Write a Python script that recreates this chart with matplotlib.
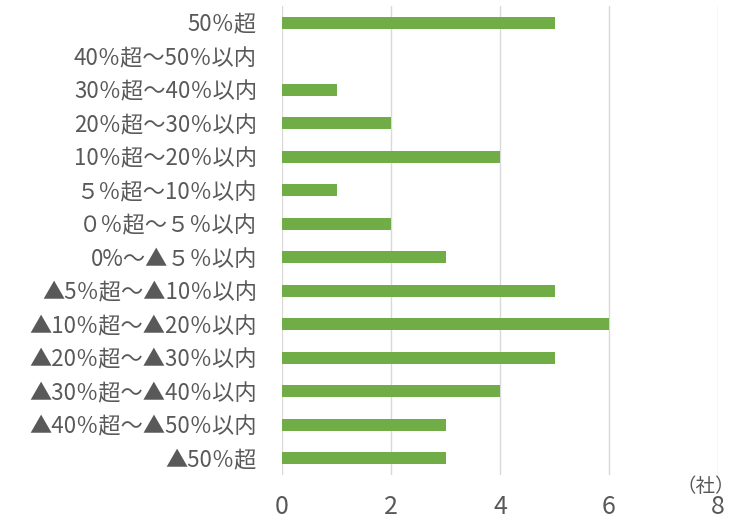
import matplotlib
matplotlib.use("Agg")
import matplotlib.pyplot as plt

plt.rcParams["font.family"] = ["Noto Sans CJK JP", "DejaVu Sans"]

# 上から順
labels = [
    "50％超",
    "40％超～50％以内",
    "30％超～40％以内",
    "20％超～30％以内",
    "10％超～20％以内",
    "５％超～10％以内",
    "０％超～５％以内",
    "0%～▲５％以内",
    "▲5％超～▲10％以内",
    "▲10％超～▲20％以内",
    "▲20％超～▲30％以内",
    "▲30％超～▲40％以内",
    "▲40％超～▲50％以内",
    "▲50％超",
]
counts = [5, 0, 1, 2, 4, 1, 2, 3, 5, 6, 5, 4, 3, 3]
xticks = [0, 2, 4, 6, 8]

GRAY = "#595959"

fig = plt.figure(figsize=(7.37, 5.23), dpi=100)
ax = fig.add_axes([282 / 737, 1 - 475 / 523, 436 / 737, 469 / 523])

y = list(range(len(labels)))
ax.barh(y, counts, height=0.36, color="#70AD47", zorder=3)
ax.set_ylim(len(labels) - 0.5, -0.5)
ax.set_xlim(0, 8)
ax.set_xticks(xticks)
ax.set_xticklabels([str(t) for t in xticks], fontsize=18, color=GRAY)
ax.set_yticks(y)
ax.set_yticklabels(labels, fontsize=16, color=GRAY)
ax.tick_params(axis="x", length=0, pad=14)
ax.tick_params(axis="y", length=0, pad=18)
ax.grid(axis="x", color="#D9D9D9", linewidth=1, zorder=0)
for s in ax.spines.values():
    s.set_visible(False)

fig.text(735 / 737, 1 - 486 / 523, "（社）", ha="right", va="center",
         fontsize=14, color=GRAY)

fig.savefig("out.png", dpi=100)
